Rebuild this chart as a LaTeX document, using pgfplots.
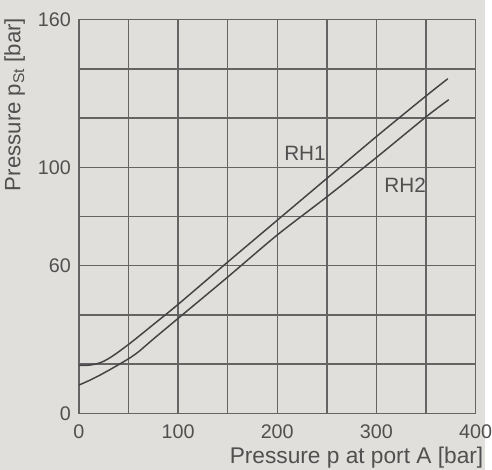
\documentclass[border=0pt]{standalone}
\usepackage{fontspec}
\setmainfont{Liberation Sans}
\usepackage{pgfplots}
\pgfplotsset{compat=1.18}
\definecolor{paper}{RGB}{224,223,220}
\definecolor{gridgray}{RGB}{100,100,100}
\definecolor{curvegray}{RGB}{68,68,68}
\definecolor{textgray}{RGB}{80,80,80}

\begin{document}
\begin{tikzpicture}
\fill[paper] (-80pt,-57pt) rectangle (412pt,419pt);
\begin{axis}[
  at={(0,0)}, anchor=south west,
  scale only axis, width=402pt, height=399pt,
  xmin=0, xmax=400, ymin=0, ymax=160,
  xtick={0,50,...,400}, xticklabels={0,,100,,200,,300,,400},
  ytick={0,20,...,160}, yticklabels={0,,,60,,100,,,160},
  grid=major, grid style={gridgray, line width=1.4pt},
  axis line style={gridgray, line width=1.4pt},
  major tick length=0pt,
  /pgf/number format/assume math mode=true,
  tick label style={font=\fontsize{20}{22}\selectfont, text=textgray, inner sep=0pt},
  xticklabel style={anchor=north, yshift=-11pt},
  yticklabel style={anchor=east, xshift=-8pt},
  xlabel={Pressure p at port A [bar]},
  xlabel style={at={(axis description cs:1.02,-0.085)}, anchor=north east,
    inner sep=0pt, font=\fontsize{23}{25}\selectfont, text=textgray},
  ylabel={Pressure p\textsubscript{St} [bar]},
  ylabel style={at={(axis description cs:-0.189,1.005)}, anchor=north east,
    inner sep=0pt, font=\fontsize{22.5}{25}\selectfont, text=textgray},
  clip=false,
]
\addplot[curvegray, line width=1.5pt, smooth] coordinates {
  (0,19.5) (5,19.5) (10,19.6) (15,19.9) (20,20.4) (25,21.2) (30,22.3)
  (35,23.6) (40,25) (45,26.5) (50,28) (60,31.2) (75,36.1)
  (100,44.3) (150,61.5) (200,78.5) (250,95.5) (300,112.5) (350,129) (372,136)};
\addplot[curvegray, line width=1.5pt, smooth] coordinates {
  (0,11.5) (10,13.3) (20,15.3) (30,17.5) (40,19.8) (50,22.2) (60,25)
  (75,30.2) (100,38.6) (150,55.4) (200,72.5) (250,88) (300,104) (350,120.5) (373,127.5)};
\node[text=textgray, font=\fontsize{21}{23}\selectfont] at (axis cs:228,105.6) {RH1};
\node[text=textgray, font=\fontsize{21}{23}\selectfont] at (axis cs:329,92.8) {RH2};
\end{axis}
\useasboundingbox (-80pt,-57pt) rectangle (412pt,419pt);
\end{tikzpicture}
\end{document}
